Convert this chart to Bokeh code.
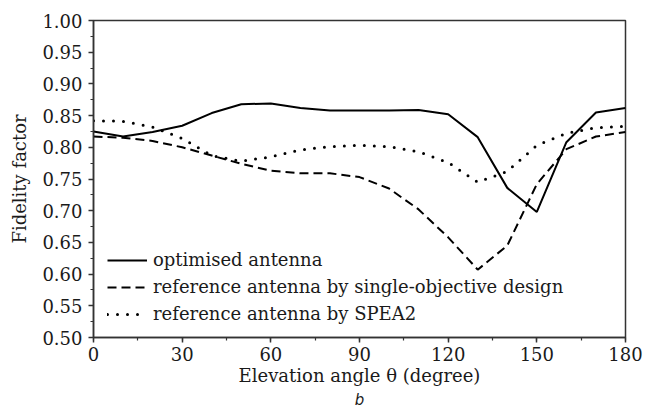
from bokeh.plotting import figure
from bokeh.models import (Legend, LegendItem, FixedTicker, NumeralTickFormatter,
                          Range1d, Title)
from bokeh.embed import file_html
from bokeh.resources import INLINE

# Elevation angle (degree)
theta = [0, 10, 20, 30, 40, 50, 60, 70, 80, 90, 100, 110, 120, 130, 140, 150, 160, 170, 180]

# Fidelity factor of each antenna
optimised = [0.825, 0.817, 0.824, 0.834, 0.854, 0.868, 0.869, 0.862, 0.858, 0.858,
             0.858, 0.859, 0.852, 0.816, 0.736, 0.698, 0.808, 0.855, 0.862]
single_objective = [0.817, 0.815, 0.810, 0.800, 0.787, 0.774, 0.763, 0.759, 0.759, 0.753,
                    0.735, 0.702, 0.658, 0.607, 0.645, 0.742, 0.797, 0.817, 0.824]
spea2 = [0.842, 0.841, 0.832, 0.814, 0.787, 0.778, 0.785, 0.796, 0.801, 0.803,
         0.801, 0.793, 0.776, 0.745, 0.762, 0.803, 0.822, 0.831, 0.833]

x_ticks = [0, 30, 60, 90, 120, 150, 180]
y_ticks = [0.50, 0.55, 0.60, 0.65, 0.70, 0.75, 0.80, 0.85, 0.90, 0.95, 1.00]

FONT = "DejaVu Serif"
INK = "#1a1a1a"

p = figure(width=656, height=408, output_backend="svg", toolbar_location=None,
           x_range=Range1d(0, 180), y_range=Range1d(0.5, 1.0),
           min_border_left=93, min_border_right=31, min_border_top=20,
           min_border_bottom=71)

p.background_fill_color = "white"
p.border_fill_color = "white"
p.outline_line_color = "#333333"
p.outline_line_width = 1.5
p.xgrid.visible = False
p.ygrid.visible = False

r1 = p.line(theta, optimised, line_color="black", line_width=2)
r2 = p.line(theta, single_objective, line_color="black", line_width=2, line_dash="9 5")
r3 = p.line(theta, spea2, line_color="black", line_width=3, line_dash="0 10",
            line_cap="round")

for ax in (p.xaxis[0], p.yaxis[0]):
    ax.axis_line_color = "#333333"
    ax.axis_line_width = 1.5
    ax.major_tick_line_color = "#333333"
    ax.minor_tick_line_color = "#333333"
    ax.major_tick_line_width = 1.5
    ax.minor_tick_line_width = 1.2
    ax.major_tick_out = 5
    ax.major_tick_in = 0
    ax.minor_tick_out = 3
    ax.minor_tick_in = 0
    ax.major_label_text_font = FONT
    ax.major_label_text_font_size = "18px"
    ax.major_label_text_color = INK
    ax.axis_label_text_font = FONT
    ax.axis_label_text_font_size = "18px"
    ax.axis_label_text_font_style = "normal"
    ax.axis_label_text_color = INK

p.xaxis.ticker = FixedTicker(ticks=x_ticks, minor_ticks=list(range(0, 181, 15)))
p.yaxis.ticker = FixedTicker(ticks=y_ticks,
                             minor_ticks=[0.5 + 0.025 * i for i in range(21)])
p.yaxis.formatter = NumeralTickFormatter(format="0.00")
p.xaxis.major_label_standoff = 4
p.yaxis.major_label_standoff = 6
p.xaxis.axis_label = "Elevation angle \u03b8 (degree)"
p.yaxis.axis_label = "Fidelity factor"
p.xaxis.axis_label_standoff = 1
p.yaxis.axis_label_standoff = 9

legend = Legend(items=[
    LegendItem(label="optimised antenna", renderers=[r1]),
    LegendItem(label="reference antenna by single-objective design", renderers=[r2]),
    LegendItem(label="reference antenna by SPEA2", renderers=[r3]),
], location=(14, 13))
legend.label_text_font = FONT
legend.label_text_font_size = "18px"
legend.label_text_color = INK
legend.glyph_width = 40
legend.glyph_height = 20
legend.label_height = 20
legend.label_standoff = 6
legend.spacing = 6
legend.padding = 0
legend.margin = 0
legend.border_line_color = None
legend.background_fill_alpha = 0
p.add_layout(legend, "center")

p.add_layout(Title(text="b", align="center", text_font="DejaVu Sans",
                   text_font_style="italic", text_font_size="15px",
                   text_color=INK, standoff=0, offset=0), "below")

open("out.html", "w").write(file_html(p, INLINE))
